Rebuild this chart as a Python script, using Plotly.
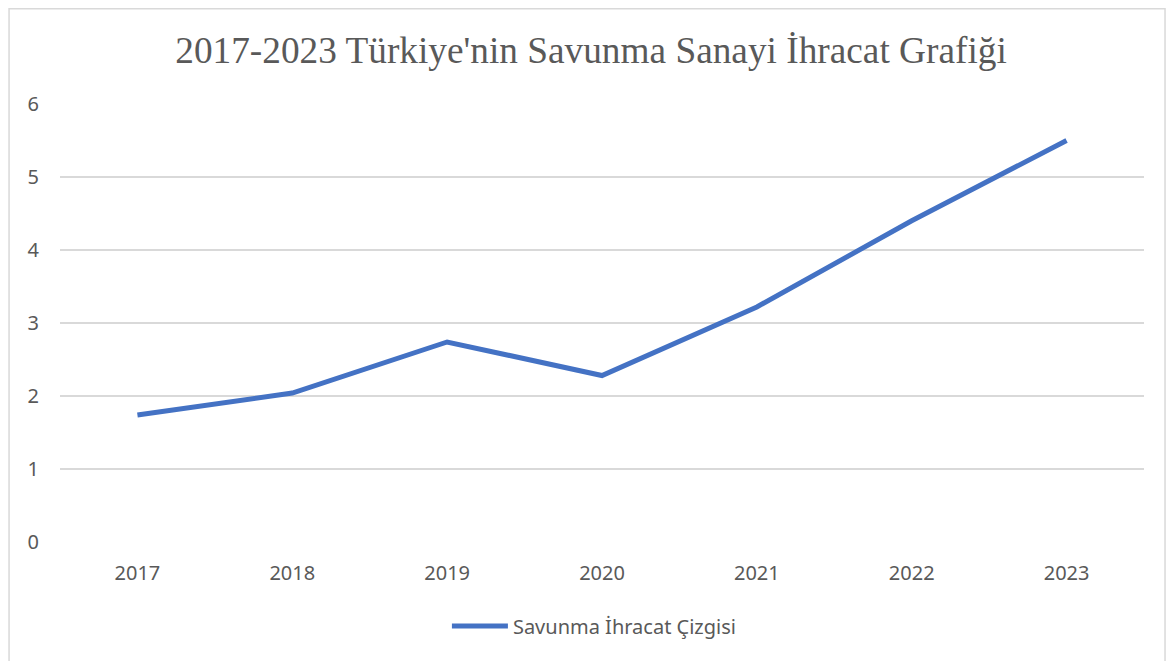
import plotly.graph_objects as go

years = ["2017", "2018", "2019", "2020", "2021", "2022", "2023"]
exports = [1.74, 2.04, 2.74, 2.28, 3.22, 4.40, 5.50]
series_name = "Savunma İhracat Çizgisi"
title_text = "2017-2023 Türkiye'nin Savunma Sanayi İhracat Grafiği"

fig = go.Figure()
fig.add_trace(go.Scatter(
    x=years, y=exports, mode="lines", name=series_name,
    line=dict(color="#4472C4", width=5, shape="linear"),
))

# page body has an 8px margin, so the figure is sized to fill the rest of the window
fig.update_layout(
    width=1166, height=653,
    margin=dict(l=52, r=30, t=96, b=119, autoexpand=False),
    paper_bgcolor="white", plot_bgcolor="white",
    title=dict(text=title_text, x=0.5, xanchor="center", y=0.9357, yanchor="middle",
               xref="container", yref="container", automargin=False,
               font=dict(family="Liberation Serif", size=37.3, color="#595959")),
    showlegend=True,
    legend=dict(orientation="h", x=0.493, xanchor="center", y=-0.192, yanchor="middle",
                font=dict(family="Noto Sans", size=20, color="#595959"),
                itemwidth=56),
    font=dict(family="Noto Sans", color="#595959"),
    shapes=[dict(type="rect", xref="paper", yref="paper",
                 x0=-0.047, x1=1.0194, y0=-0.3, y1=1.2175,
                 line=dict(color="#d9d9d9", width=1.5), layer="below")],
)
fig.update_xaxes(type="category", range=[-0.5, 6.5], showgrid=False, showline=False,
                 zeroline=False, ticks="", automargin=False,
                 tickfont=dict(size=20, color="#595959"), ticklabelstandoff=17)
fig.update_yaxes(range=[0, 6], dtick=1, showgrid=True, gridcolor="#d9d9d9", gridwidth=1.5,
                 zeroline=False, showline=False, ticks="", automargin=False,
                 tickfont=dict(size=20, color="#595959"), ticklabelstandoff=20)

fig.write_html("out.html")
